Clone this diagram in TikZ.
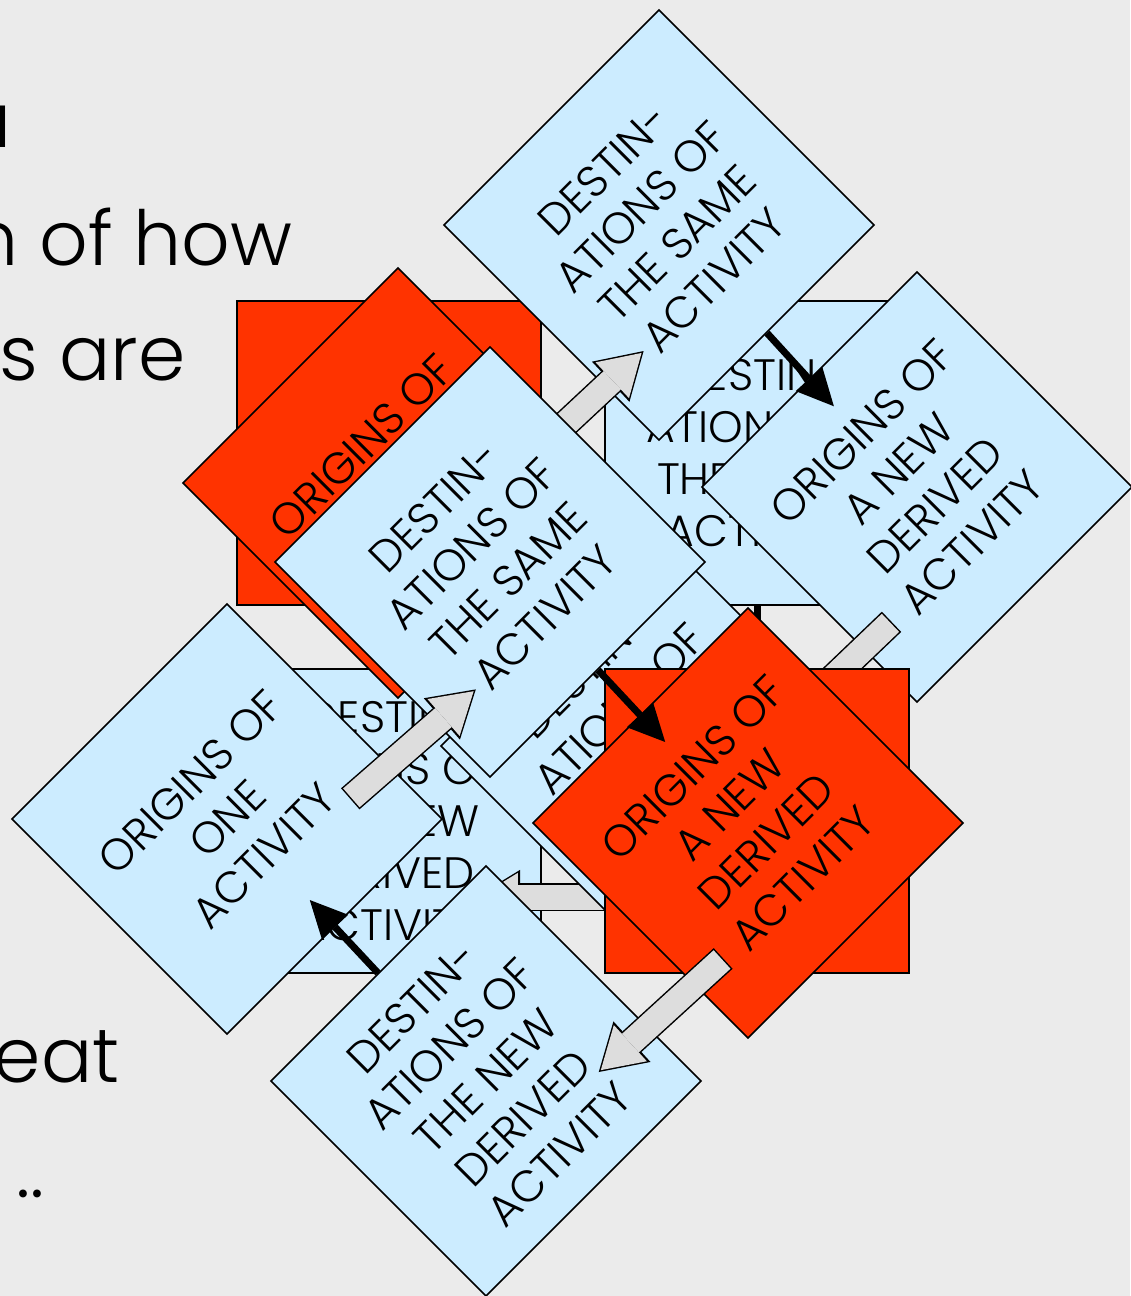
\documentclass[tikz,border=0pt]{standalone}
\usepackage{fontspec}
\setmainfont{Poppins}[UprightFont=* Light]
\usetikzlibrary{arrows.meta,calc}
\pgfdeclarelayer{deck}
\pgfsetlayers{deck,main}
\definecolor{Slide}{HTML}{EBEBEB}
\definecolor{Sky}{HTML}{CCECFF}
\definecolor{Flame}{HTML}{FF3300}
\definecolor{Shade}{HTML}{DDDDDD}
% block arrow: from, to, overlap at the tail, overlap at the tip (pt)
\newcommand{\GrayArrow}[4]{%
  \draw[line width=14pt,-{Triangle[length=22.5pt,width=27.5pt,line width=0pt]},
    shorten <=-#3pt-0.75pt,shorten >=-#4pt-1.4pt] (#1) -- (#2);%
  \draw[Shade,line width=12.5pt,-{Triangle[length=20pt,width=24.5pt,line width=0pt]},
    shorten <=-#3pt,shorten >=-#4pt] (#1) -- (#2);%
}

\begin{document}
\begin{tikzpicture}[x=0.5pt,y=-0.5pt,
  card/.style={draw=black,line width=0.8pt,minimum size=152pt,inner sep=0pt,
    align=center,font=\fontsize{22}{26}\selectfont},
  sky/.style={card,fill=Sky},
  flame/.style={card,fill=Flame},
  turned/.style={rotate=45},
  flow/.style={line width=3.5pt,-{Triangle[length=18.5pt,width=18pt,line width=0pt]},
    shorten >=-18.5pt},
  slideline/.style={anchor=base east,inner sep=0pt,font=\fontsize{38}{46}\selectfont}]
\useasboundingbox (0,0) rectangle (1130,1296);
% red square of the new derived activity, on the main layer
\node[flame] (D) at (757,821) {};
\begin{pgfonlayer}{deck}
\fill[Slide] (0,0) rectangle (1130,1296);
\node[slideline] (lineu) at (12,147) {u};
\node[slideline] (linehow) at (293,265) {n of how};
\node[slideline] (lineare) at (186,380) {es are};
\node[slideline] (lineeat) at (120,1082) {eat};
\node[slideline] (linedots) at (45,1197) {..};
% square layout
\node[flame] (A) at (389,453) {};
\node[sky] (B) at (757,453) {DESTIN-\\ATIONS OF\\THE SAME\\ACTIVITY};
\node[sky] (C) at (389,821) {DESTIN-\\ATIONS OF\\THE NEW\\DERIVED\\ACTIVITY};
\draw[flow] (B.south) -- (D.north);
\GrayArrow{$(D.west)!0.5!(D.south west)$}{$(C.east)!0.5!(C.south east)$}{19}{32}
% turned layout, first copy
\node[flame,turned] (E) at (398,483) {ORIGINS OF\\ONE\\ACTIVITY};
\node[sky,turned] (J) at (659,225) {DESTIN-\\ATIONS OF\\THE SAME\\ACTIVITY};
\GrayArrow{$(E.east)!0.5!(E.south east)$}{$(J.west)!0.5!(J.south west)$}{25}{25}
\node[sky,turned] (K) at (917,487) {ORIGINS OF\\A NEW\\DERIVED\\ACTIVITY};
\draw[flow] (J.south) -- (K.north);
\node[sky,turned] (H) at (656,746) {DESTIN-\\ATIONS OF\\THE NEW\\DERIVED\\ACTIVITY};
\GrayArrow{$(K.west)!0.5!(K.south west)$}{$(H.east)!0.5!(H.south east)$}{19}{32}
\end{pgfonlayer}
% turned layout, second copy
\node[sky,turned] (G) at (227,819) {ORIGINS OF\\ONE\\ACTIVITY};
\node[sky,turned] (F) at (490,562) {DESTIN-\\ATIONS OF\\THE SAME\\ACTIVITY};
\GrayArrow{$(G.east)!0.5!(G.south east)$}{$(F.west)!0.5!(F.south west)$}{25}{25}
\node[flame,turned] (I) at (748,823) {ORIGINS OF\\A NEW\\DERIVED\\ACTIVITY};
\draw[flow] (F.south) -- (I.north);
\node[sky,turned] (L) at (486,1081) {DESTIN-\\ATIONS OF\\THE NEW\\DERIVED\\ACTIVITY};
\GrayArrow{$(I.west)!0.5!(I.south west)$}{$(L.east)!0.5!(L.south east)$}{19}{32}
\draw[flow] (L.north) -- (G.south);
\end{tikzpicture}
\end{document}
